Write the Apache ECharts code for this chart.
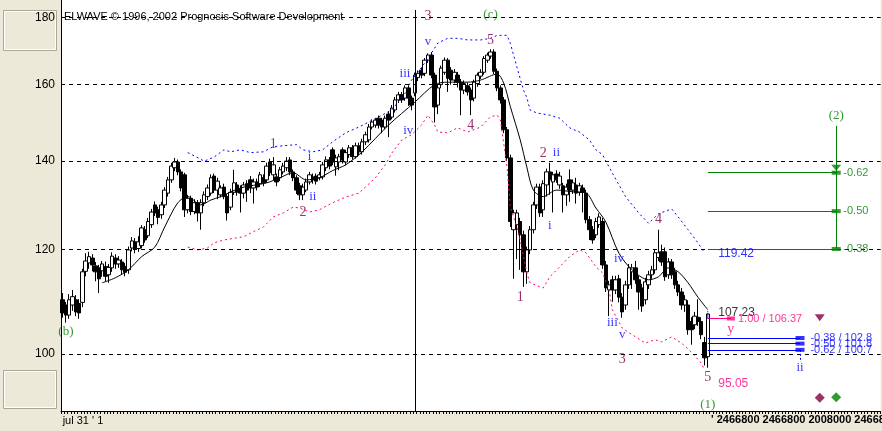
<!DOCTYPE html>
<html><head><meta charset="utf-8">
<script src="https://cdn.jsdelivr.net/npm/echarts@6/dist/echarts.min.js"></script>
<style>html,body{margin:0;padding:0;background:#ECE9D8}#c{width:882px;height:431px}</style>
</head><body><div id="c"></div>
<script>
// [open, close, low, high]
const candles = [
[109.9,107.4,106.5,111.2],[108.9,107.0,105.6,109.5],[107.0,109.9,106.3,111.0],[108.9,110.5,107.8,111.8],[109.9,107.6,106.8,110.8],
[109.2,107.4,106.3,110.0],[109.4,115.4,108.5,116.0],[115.5,117.6,114.5,119.2],[117.2,118.5,116.0,119.5],[118.2,116.8,115.5,119.0],
[116.6,115.4,113.5,117.4],[116.2,114.0,111.2,116.8],[115.6,117.0,114.4,117.6],[116.5,114.5,113.5,117.5],[114.8,116.3,113.2,117.0],
[116.2,118.6,115.4,119.4],[118.2,117.0,116.0,119.0],[117.0,117.8,116.2,118.6],[117.4,115.8,114.8,118.0],[116.5,115.3,114.5,117.2],
[115.8,119.9,115.0,120.6],[120.3,121.8,119.6,122.6],[121.6,120.1,119.2,122.4],[120.2,121.6,119.5,122.8],[120.8,124.6,120.2,125.2],
[124.2,122.0,121.4,125.0],[122.9,126.0,122.4,126.8],[125.3,128.1,124.6,128.8],[129.7,127.9,127.2,130.5],[128.6,126.9,125.4,129.3],
[127.5,129.7,126.6,130.4],[129.7,133.1,129.0,133.8],[132.4,135.5,131.6,136.2],[135.5,138.8,134.8,139.6],[138.4,139.8,137.6,140.8],
[139.8,137.4,136.6,140.4],[137.4,133.6,132.8,138.0],[136.7,128.6,127.0,137.2],[128.6,131.2,127.8,132.0],[131.2,128.2,127.4,131.8],
[128.2,130.2,127.6,131.0],[130.2,127.9,126.0,130.8],[127.9,130.2,124.2,131.0],[130.2,132.0,129.4,132.8],[131.6,133.6,130.8,134.4],
[132.4,136.0,131.8,136.8],[136.4,133.1,132.4,137.0],[133.1,135.2,131.0,136.0],[132.0,133.6,131.4,134.2],[133.8,131.6,131.0,134.6],
[131.6,127.9,126.2,132.2],[129.2,132.6,128.5,133.4],[132.6,134.8,132.0,137.9],[134.3,132.6,131.8,135.0],[133.4,132.4,128.0,134.2],
[132.4,134.3,131.2,135.0],[134.6,133.1,130.4,135.4],[135.5,133.6,132.4,136.4],[133.6,135.0,130.0,135.8],[135.0,133.8,133.0,135.8],
[134.6,136.7,133.8,137.4],[136.0,134.8,134.0,136.8],[135.5,138.8,134.8,139.6],[139.8,137.2,136.4,140.6],[136.7,139.1,135.4,141.0],
[136.2,135.0,134.0,137.0],[136.0,137.9,135.2,138.6],[137.4,138.8,136.8,139.6],[138.4,140.0,137.6,141.0],[140.3,137.4,136.6,141.0],
[137.4,136.0,135.2,138.0],[136.0,133.1,132.2,136.6],[134.1,132.0,130.8,134.8],[132.0,133.8,130.8,134.6],[133.1,135.0,132.6,135.8],
[135.0,136.7,134.4,137.4],[136.2,135.5,134.6,137.0],[136.4,135.2,134.4,137.0],[136.0,136.7,135.4,137.4],[136.2,139.1,135.6,139.8],
[138.4,140.3,137.6,141.2],[140.3,138.8,138.0,141.0],[142.8,139.8,139.0,143.4],[138.6,140.8,136.5,141.6],[139.8,141.1,137.8,141.8],
[142.8,140.3,139.4,143.4],[139.8,142.1,139.0,142.8],[141.6,143.3,140.8,144.0],[143.3,141.1,140.4,144.0],[141.1,143.8,140.6,144.6],
[143.8,142.3,141.4,144.6],[142.3,144.8,141.6,145.6],[144.8,146.6,144.0,147.4],[145.3,148.6,144.6,149.4],[148.6,149.9,148.0,150.6],
[149.1,150.4,148.4,151.0],[150.9,149.1,148.2,151.6],[150.4,148.6,147.0,151.0],[148.6,150.9,148.0,151.6],[152.0,150.4,146.0,152.8],
[151.2,153.6,150.6,154.4],[153.1,155.8,152.4,156.6],[155.8,157.2,155.0,158.0],[157.2,155.8,155.0,158.0],[156.3,159.1,155.6,159.8],
[159.1,156.3,154.2,159.8],[156.3,154.4,153.0,157.0],[157.7,162.7,156.8,163.4],[162.0,163.2,161.0,164.0],[164.1,162.7,161.8,164.8],
[163.2,167.0,162.4,167.6],[167.0,168.5,166.2,169.0],[168.5,162.7,161.8,169.4],[162.7,153.9,149.8,163.4],[154.4,159.1,152.0,160.0],
[160.0,164.7,159.0,165.4],[163.5,167.0,162.8,167.8],[167.0,161.8,158.0,167.6],[164.1,161.3,160.0,165.0],[161.3,163.5,160.4,164.4],
[162.7,160.7,159.2,163.6],[160.7,158.5,151.7,161.6],[158.5,160.3,157.4,161.2],[159.7,158.0,157.0,160.6],[158.5,155.8,151.7,159.2],
[156.3,160.7,155.4,161.4],[160.3,162.7,159.4,163.4],[162.4,163.5,161.6,164.4],[163.5,167.5,162.8,168.2],[167.0,168.5,166.2,169.2],
[168.2,169.4,167.4,170.2],[169.4,163.8,163.0,170.2],[163.8,159.1,158.2,164.6],[159.1,155.8,154.8,159.8],[155.8,147.9,147.0,156.6],
[147.9,140.8,140.0,148.6],[140.8,126.0,124.8,141.6],[124.2,127.9,114.0,128.6],[125.3,127.9,118.0,128.6],[126.0,123.1,115.8,126.8],
[123.1,115.4,112.4,124.0],[115.4,119.9,113.0,120.6],[119.9,124.2,119.0,125.0],[124.2,129.7,123.4,130.4],[129.7,133.8,128.8,134.6],
[133.8,127.9,127.0,134.6],[128.6,134.6,127.0,135.4],[134.3,137.4,131.6,138.2],[137.4,135.5,132.0,139.6],[135.0,136.7,128.0,137.4],
[136.9,135.5,134.8,137.8],[134.3,136.4,133.4,137.4],[134.1,132.0,128.0,134.8],[132.0,133.8,129.5,134.6],[135.5,133.1,130.4,138.0],
[133.1,134.8,132.2,135.6],[134.3,132.4,130.0,136.0],[132.6,134.1,131.8,134.8],[133.6,132.6,128.0,134.4],[132.4,126.4,125.6,133.2],
[126.4,124.2,122.0,127.2],[124.2,122.0,121.2,125.0],[123.1,126.0,122.4,126.8],[125.3,127.0,124.6,127.8],[126.0,116.8,116.0,126.8],
[116.8,112.2,111.4,117.6],[111.8,112.8,106.8,113.6],[113.8,111.8,109.5,114.6],[111.8,113.8,111.0,114.6],[114.0,110.4,109.4,114.8],
[110.4,107.6,106.5,111.2],[108.9,112.8,108.0,113.6],[112.8,116.2,112.0,117.0],[115.4,116.2,112.0,117.0],[116.2,113.8,113.0,117.6],
[113.8,111.4,108.0,114.6],[112.2,108.7,107.6,113.0],[109.9,113.4,109.0,114.2],[112.8,114.8,112.0,115.6],[114.8,115.8,114.0,116.6],
[115.8,119.3,115.0,120.0],[118.3,119.3,117.6,124.2],[119.5,117.4,116.6,121.0],[119.5,114.4,113.6,120.4],[114.8,117.4,114.0,118.2],
[117.4,114.8,114.0,118.0],[115.4,112.8,112.0,116.2],[112.8,111.4,110.6,113.6],[111.4,108.9,108.0,112.2],[108.9,109.9,107.6,110.8],
[108.9,104.3,103.4,109.8],[105.8,104.3,101.6,106.6],[105.2,106.8,104.4,107.6],[106.6,105.8,105.0,110.0],[105.8,103.4,102.6,106.6],
[102.0,99.3,98.0,103.0],[99.5,107.2,97.6,107.2]
];
// [bar index, value]
const movingAverage = [[12,113.2],[16,114.2],[20,115.8],[24,118.5],[28,120.5],[31,124.8],[35,130.2],[38,131.6],[42,129.7],[45,130.8],[48,131.6],[54,133.6],[62,134.8],[66,136],[70,137.2],[74,135.5],[78,136],[82,137.7],[86,139.1],[91,142.3],[99,149.1],[107,155.2],[113,160],[117,160.7],[123,160.7],[127,161.3],[132,163],[134,160.4],[136,154],[139,145.3],[141,138.6],[143,133.1],[146,131.6],[150,133.1],[155,132.7],[159,132.4],[162,129],[165,125.9],[169,119.2],[173,115.8],[178,113.8],[181,114.4],[184,116.2],[187,115.4],[190,113.2],[193,110.4],[196,108]];
const upperBand = [[38,142.1],[40,141.3],[43,140],[46,141],[49,142.8],[51,142.3],[54,142.8],[57,142.1],[61,142.3],[64,143.6],[67,143.8],[71,144.1],[73,142.8],[76,142.3],[79,142.8],[82,144.8],[86,147.1],[90,148.6],[93,149.9],[97,151.7],[100,153.1],[104,157.6],[106,161.3],[108,163.6],[111,167.5],[112,169],[114,172.1],[117,173.5],[120,173.5],[123,173],[127,173],[130,173.5],[132,174.4],[135,174.4],[136,172],[138,165],[140,158.5],[141,156.5],[142,153.1],[144,152.3],[148,151.7],[151,150.9],[154,148.4],[157,147.3],[160,145.3],[162,142.8],[164,141.6],[167,137.1],[171,131.6],[175,127.9],[178,125.6],[181,127.7],[185,128.8],[187,127],[190,124.2],[193,121.4],[195,119.3]];
const lowerBand = [[38,120.5],[41,119.9],[44,120.3],[46,121.4],[49,122],[55,122.7],[58,123.8],[61,124.8],[64,127],[67,127.9],[70,129.2],[72,129],[75,128.1],[78,128.6],[82,130.2],[86,131.5],[90,132.4],[95,136],[98,139.1],[100,142],[103,145.3],[106,146.6],[109,149.1],[111,151.7],[113,149.1],[114,147.3],[117,147.1],[120,148.4],[123,147.3],[127,148.6],[130,151.3],[132,151.7],[133,150.4],[135,138.6],[136,129.2],[138,124.8],[139,122],[141,115.2],[142,113.2],[145,112.4],[146,112.2],[148,114.4],[151,116.4],[154,118.5],[157,119.9],[159,119.3],[162,116.4],[164,115.2],[166,111.8],[167,108],[170,104.6],[173,103.4],[177,101.9],[180,102.5],[182,102.1],[185,103],[188,101.9],[191,100.3],[194,98.4],[195,97.2]];
const gridValues = [100,120,140,160,180];
const totalBars = 249;
const firstDateLabel = "jul 31 ' 1";
// wave labels: [bar index, value, text]
const minorWaves = [[111,180.4,'3'],[130,173,'5'],[124,149.1,'4'],[64,144.3,'1'],[73,128.1,'2'],[146,142,'2'],[139,110.3,'1'],[170,99,'3'],[181,126.4,'4'],[196,95.9,'5']];
const minuteWaves = [[111,172.4,'v'],[104,163,'iii'],[105,147.8,'iv'],[75,141,'i'],[76,131.6,'ii'],[150,142,'ii'],[148,125.1,'i'],[169,118.2,'iv'],[167,105.6,'iii'],[170,103.4,'v'],[196,107,'i'],[224,97.55,'ii']];
const intermediateWaves = [[130,180.7,'(c)'],[196,91.6,'(1)'],[1,103.9,'(b)'],[235,151.7,'(2)']];
const subWaves = [[203,104.3,'y']];
const greenRetrace = [137.2,128.3,120.1];
const greenRetraceText = ['-0.62','-0.50','-0.38'];
const blueRetrace = [102.8,101.8,100.7];
const blueRetraceText = ['-0.38 / 102.8','-0.50 / 101.8','-0.62 / 100.7'];
const pinkTarget = 106.37;
const pinkTargetText = '1.00 / 106.37';
const bandEnd = 119.42, lastHigh = 107.23, projLow = 95.05;

const MAROON='#800040', BLUE='#0000FF', GREEN='#008000', PINK='#FF0080';
const serif='"Liberation Serif","DejaVu Serif",serif';
const sans='"Liberation Sans",Arial,sans-serif';
const cats = Array.from({length: totalBars}, (_, i) => String(i));
const last = candles.length - 1;

function textSeries(data, color, size, family, pos) {
  return {type:'scatter', silent:true, z:10, symbolSize:1, itemStyle:{color:'rgba(0,0,0,0)'},
    data: data.map(d => ({value:[d[0], d[1]], name:d[2]})),
    label:{show:true, position:pos||'inside', distance:0, formatter:p=>p.name, color:color, fontSize:size, fontFamily:family}};
}
function seg(a, b, style) { return [{coord:a, lineStyle:style}, {coord:b}]; }

const annLines = [];
annLines.push(seg([107,182.3],[107,90.5],{color:'#000',width:1,type:'solid'}));
greenRetrace.forEach(v => annLines.push(seg([last,v],[235,v],{color:GREEN,width:1,type:'solid'})));
annLines.push(seg([235,148.9],[235,greenRetrace[2]],{color:GREEN,width:1,type:'solid'}));
blueRetrace.forEach(v => annLines.push(seg([last,v],[224,v],{color:BLUE,width:1,type:'solid'})));
annLines.push(seg([224,blueRetrace[2]],[224,98.6],{color:BLUE,width:1,type:[2,2]}));
annLines.push(seg([last,pinkTarget],[203,pinkTarget],{color:PINK,width:1,type:'solid'}));

const markers = [
  {value:[203,pinkTarget], symbol:'rect', symbolSize:[8,4], itemStyle:{color:PINK}},
  ...blueRetrace.map(v => ({value:[224,v], symbol:'rect', symbolSize:[9,4], itemStyle:{color:BLUE}})),
  ...greenRetrace.map(v => ({value:[235,v], symbol:'rect', symbolSize:[9,4], itemStyle:{color:GREEN}})),
  {value:[235,138.4], symbol:'triangle', symbolRotate:180, symbolSize:[10,6], itemStyle:{color:GREEN}},
  {value:[230,106.5], symbol:'triangle', symbolRotate:180, symbolSize:[10,7], itemStyle:{color:MAROON}},
  {value:[230,92.6], symbol:'diamond', symbolSize:[10,10], itemStyle:{color:MAROON}},
  {value:[235,92.7], symbol:'diamond', symbolSize:[10,10], itemStyle:{color:GREEN}}
];

const chart = echarts.init(document.getElementById('c'));
chart.setOption({
  animation:false,
  backgroundColor:'#ECE9D8',
  grid:{left:61, right:0, top:0, bottom:20, show:true, backgroundColor:'#FFFFFF', borderWidth:0},
  xAxis:{type:'category', data:cats, boundaryGap:true,
    axisLine:{show:true, lineStyle:{color:'#000', width:1}},
    axisTick:{show:true, interval:0, length:3, lineStyle:{color:'#000'}},
    axisLabel:{show:true, interval:0, align:'left', margin:4, color:'#000', fontSize:11, fontFamily:sans,
      formatter:(v,i)=> i===0 ? firstDateLabel : ''},
    splitLine:{show:false}},
  yAxis:{type:'log', logBase:10, min:90.5, max:185.5,
    axisLine:{show:true, lineStyle:{color:'#000', width:1}},
    axisTick:{show:false}, axisLabel:{show:false}, splitLine:{show:false}},
  graphic:[
    {type:'rect', z:0, shape:{x:3.5,y:10.5,width:53,height:40}, style:{fill:'none', stroke:'#ACA899', lineWidth:1}},
    {type:'rect', z:0, shape:{x:4.5,y:11.5,width:51,height:38}, style:{fill:'none', stroke:'#FFFFFF', lineWidth:1}},
    {type:'rect', z:0, shape:{x:3.5,y:370.5,width:53,height:38}, style:{fill:'none', stroke:'#ACA899', lineWidth:1}},
    {type:'rect', z:0, shape:{x:4.5,y:371.5,width:51,height:36}, style:{fill:'none', stroke:'#FFFFFF', lineWidth:1}},
    {type:'text', z:100, left:64, top:11, style:{text:'ELWAVE \u00A9 1996, 2002 Prognosis Software Development', fill:'#000', font:'11px "Liberation Sans", Arial, sans-serif'}},
    {type:'text', z:100, left:711, top:414, style:{text:"' 2466800 2466800 2008000 2466800", fill:'#000', font:'bold 11px "Liberation Sans", Arial, sans-serif'}}
  ],
  series:[
    {type:'line', data:[], z:1, silent:true,
      markLine:{silent:true, symbol:['none','none'], lineStyle:{color:'#000', type:[4,4], width:1},
        label:{show:true, position:'start', distance:6, formatter:p=>String(p.value), color:'#000', fontSize:12, fontFamily:sans},
        data: gridValues.map(v=>({yAxis:v}))}},
    {type:'candlestick', data:candles, z:3, barWidth:4, silent:true,
      itemStyle:{color:'#FFFFFF', color0:'#000000', borderColor:'#000000', borderColor0:'#000000', borderWidth:1}},
    {type:'line', data:movingAverage, z:4, silent:true, showSymbol:false, symbol:'none', smooth:0.3, lineStyle:{color:'#000', width:1}},
    {type:'line', data:upperBand, z:4, silent:true, showSymbol:false, symbol:'none', lineStyle:{color:BLUE, width:1, type:[2,3]}},
    {type:'line', data:lowerBand, z:4, silent:true, showSymbol:false, symbol:'none', lineStyle:{color:PINK, width:1, type:[2,3]}},
    {type:'line', data:[], z:5, silent:true,
      markLine:{silent:true, symbol:['none','none'], label:{show:false}, data:annLines}},
    {type:'scatter', data:markers, z:6, silent:true},
    textSeries(minorWaves, MAROON, 14, serif),
    textSeries(minuteWaves, BLUE, 13, serif),
    textSeries(intermediateWaves, GREEN, 13, serif),
    textSeries(subWaves, PINK, 14, serif),
    textSeries([[199,119.2,bandEnd.toFixed(2)]], BLUE, 12, sans, 'right'),
    textSeries([[199,107.5,lastHigh.toFixed(2)]], '#000', 12, sans, 'right'),
    textSeries([[205,pinkTarget,pinkTargetText]], PINK, 11, sans, 'right'),
    textSeries([[199,94.9,projLow.toFixed(2)]], PINK, 12, sans, 'right'),
    textSeries(greenRetrace.map((v,k)=>[237,v,greenRetraceText[k]]), GREEN, 11, sans, 'right'),
    textSeries(blueRetrace.map((v,k)=>[227,v,blueRetraceText[k]]), BLUE, 11, sans, 'right')
  ]
});
</script></body></html>
